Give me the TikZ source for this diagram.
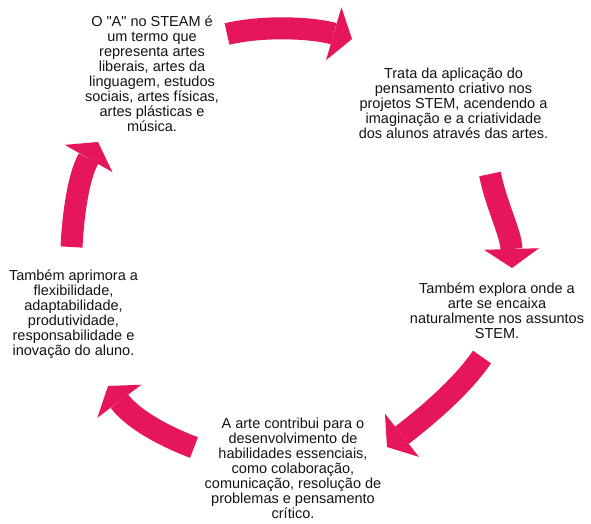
\documentclass[tikz,border=0pt]{standalone}
\usepackage{fontspec}
\setmainfont{Liberation Sans}
\usetikzlibrary{arrows.meta}
\definecolor{steamred}{RGB}{230,22,90}
\definecolor{steamtext}{RGB}{20,20,20}
\tikzset{
  x=1pt, y=-1pt,
  steamtext/.style={align=center, inner sep=0pt, text=steamtext,
    font=\fontsize{14.5}{15}\selectfont},
  cyclearrow/.style={draw=steamred, line width=22pt,
    -{Triangle[length=19pt, width=55pt, line width=0pt]}},
}
\begin{document}
\begin{tikzpicture}
\path[use as bounding box, fill=white] (0,0) rectangle (591,523);

% the five statements around the cycle
\node[steamtext] (t1) at (152,74) {O \textquotedbl A\textquotedbl{} no STEAM é\\um termo que\\representa artes\\liberais, artes da\\linguagem, estudos\\sociais, artes físicas,\\artes plásticas e\\música.};
\node[steamtext] (t2) at (453.5,103) {Trata da aplicação do\\pensamento criativo nos\\projetos STEM, acendendo a\\imaginação e a criatividade\\dos alunos através das artes.};
\node[steamtext] (t3) at (497,311) {Também explora onde a\\arte se encaixa\\naturalmente nos assuntos\\STEM.};
\node[steamtext] (t4) at (293,468) {A arte contribui para o\\desenvolvimento de\\habilidades essenciais,\\como colaboração,\\comunicação, resolução de\\problemas e pensamento\\crítico.};
\node[steamtext] (t5) at (73.5,314.5) {Também aprimora a\\flexibilidade,\\adaptabilidade,\\produtividade,\\responsabilidade e\\inovação do aluno.};

% ends of the curved arrows
\coordinate (a1s) at (227,34);   \coordinate (a1e) at (352,39);
\coordinate (a2s) at (490,174);  \coordinate (a2e) at (512,268);
\coordinate (a3s) at (482,357);  \coordinate (a3e) at (387,447);
\coordinate (a4s) at (194,447.5);\coordinate (a4e) at (108,386);
\coordinate (a5s) at (71.5,247); \coordinate (a5e) at (98,142);

\draw[cyclearrow] (a1s) .. controls (265,25) and (314,28) .. (a1e);
\draw[cyclearrow] (a2s) .. controls (496,205) and (511,233) .. (a2e);
\draw[cyclearrow] (a3s) .. controls (458,392) and (415,425) .. (a3e);
\draw[cyclearrow] (a4s) .. controls (161,435) and (132,418) .. (a4e);
\draw[cyclearrow] (a5s) .. controls (73,217) and (78,177) .. (a5e);
\end{tikzpicture}
\end{document}
